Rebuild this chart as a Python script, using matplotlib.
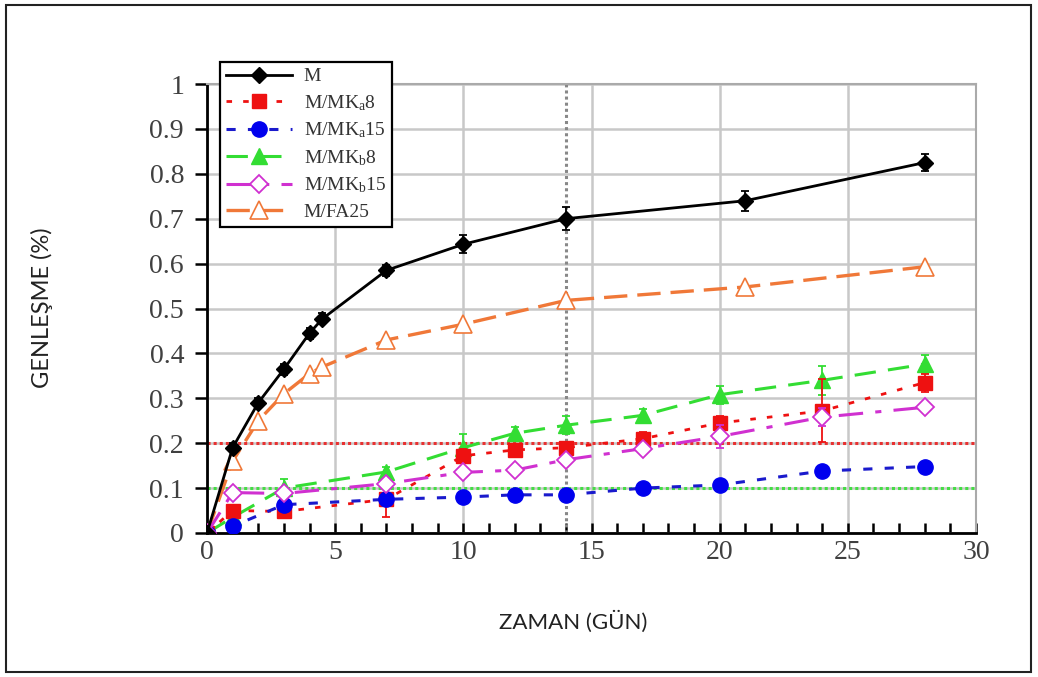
import numpy as np
import matplotlib
matplotlib.use("Agg")
import matplotlib.pyplot as plt
from matplotlib.patches import Rectangle

plt.rcParams['font.family'] = ['Liberation Serif', 'DejaVu Serif']
plt.rcParams['mathtext.fontset'] = 'custom'
plt.rcParams['mathtext.rm'] = 'Liberation Serif'
plt.rcParams['mathtext.it'] = 'Liberation Serif'

# gun (days) and expansion (%) per mix
t_M = [0, 1, 2, 3, 4, 4.5, 7, 10, 14, 21, 28]
M = [0, 0.19, 0.29, 0.365, 0.445, 0.477, 0.585, 0.643, 0.70, 0.74, 0.825]
M_err = [0, 0.01, 0.01, 0.012, 0.012, 0.012, 0.012, 0.02, 0.025, 0.022, 0.018]

t_FA = [0, 1, 2, 3, 4, 4.5, 7, 10, 14, 21, 28]
FA25 = [0, 0.16, 0.25, 0.31, 0.355, 0.37, 0.43, 0.465, 0.518, 0.548, 0.593]

t_mk = [0, 1, 3, 7, 10, 12, 14, 17, 20, 24, 28]
MKa8 = [0, 0.05, 0.048, 0.075, 0.172, 0.185, 0.19, 0.21, 0.245, 0.272, 0.335]
MKa8_err = [0, 0.01, 0.01, 0.04, 0.015, 0.01, 0.01, 0.015, 0.015, 0.07, 0.02]
MKa15 = [0, 0.015, 0.063, 0.075, 0.08, 0.085, 0.085, 0.10, 0.107, 0.138, 0.148]
MKa15_err = [0, 0.01, 0.01, 0.01, 0.008, 0.008, 0.01, 0.008, 0.008, 0.01, 0.008]
MKb8 = [0, 0.035, 0.10, 0.136, 0.19, 0.222, 0.24, 0.262, 0.308, 0.34, 0.376]
MKb8_err = [0, 0.01, 0.02, 0.01, 0.03, 0.015, 0.02, 0.015, 0.02, 0.033, 0.02]
MKb15 = [0, 0.09, 0.088, 0.11, 0.135, 0.14, 0.163, 0.188, 0.215, 0.258, 0.28]
MKb15_err = [0, 0.005, 0.005, 0.01, 0.01, 0.01, 0.01, 0.01, 0.025, 0.02, 0.01]

labels = ['M', 'M/MK$_{\\mathrm{a}}$8', 'M/MK$_{\\mathrm{a}}$15',
          'M/MK$_{\\mathrm{b}}$8', 'M/MK$_{\\mathrm{b}}$15', 'M/FA25']
ytick_labels = ['0', '0.1', '0.2', '0.3', '0.4', '0.5', '0.6', '0.7', '0.8', '0.9', '1']

fig = plt.figure(figsize=(10.38, 6.77), dpi=100)
ax = fig.add_axes([207/1038, 1-533/677, (976-207)/1038, (533-84)/677])

# limit lines
ax.axhline(0.2, color='#e83030', ls=(0, (1, 1)), lw=2.2, zorder=1)
ax.axhline(0.1, color='#44dd44', ls=(0, (1, 1)), lw=2.2, zorder=1)
ax.axvline(14, color='#888888', ls=(0, (1, 1)), lw=2.2, zorder=1)

eb = dict(capsize=3, elinewidth=1.3, capthick=1.3)

h1 = ax.errorbar(t_M, M, yerr=M_err, color='black', ls='-', lw=2, marker='D',
                 ms=8, zorder=6, **eb)
h2 = ax.errorbar(t_mk, MKa8, yerr=MKa8_err, color='#ee1111', ls=(0, (2, 4)), lw=2,
                 marker='s', ms=10, zorder=4, **eb)
h3 = ax.errorbar(t_mk, MKa15, yerr=MKa15_err, color='#1a1acc', mfc='#0000ee', mec='#0000ee',
                 ls=(0, (3, 4)), lw=2.2, marker='o', ms=11, zorder=4, **eb)
h4 = ax.errorbar(t_mk, MKb8, yerr=MKb8_err, color='#33dd33', ls=(0, (7, 4)), lw=2.2,
                 marker='^', ms=11, zorder=3, **eb)
h5 = ax.errorbar(t_mk, MKb15, yerr=MKb15_err, color='#d030d0', mfc='white',
                 ls=(0, (8, 4, 2, 4)), lw=2.2, marker='D', ms=9, mew=1.3,
                 zorder=5, **eb)
h6, = ax.plot(t_FA, FA25, color='#f07838', mfc='white', ls=(0, (7, 3)), lw=2.4,
              marker='^', ms=13, mew=1.2, zorder=5)

ax.set_xlim(0, 30)
ax.set_ylim(0, 1)
ax.set_xticks(np.arange(0, 31, 5))
ax.set_xticks(np.arange(0, 31, 1), minor=True)
ax.set_yticks(np.arange(0, 1.01, 0.1))
ax.set_yticklabels(ytick_labels)
ax.grid(True, which='major', color='#c8c8c8', lw=1.8, zorder=0)
ax.set_axisbelow(True)

ax.tick_params(axis='x', which='both', direction='in', length=7, width=1.8,
               color='black', labelsize=20, labelcolor='#404040', pad=5)
ax.tick_params(axis='y', which='major', direction='out', length=8.5, width=1.8,
               color='black', labelsize=20, labelcolor='#404040', pad=8)
for s in ['left', 'bottom']:
    ax.spines[s].set_color('black')
    ax.spines[s].set_linewidth(2)
for s in ['top', 'right']:
    ax.spines[s].set_color('#aaaaaa')
    ax.spines[s].set_linewidth(1.5)

handles = [h1[0], h2[0], h3[0], h4[0], h5[0], h6]
leg = fig.legend(handles=handles, labels=labels,
                 loc='upper left', bbox_to_anchor=(220/1038, 1-62/677),
                 borderaxespad=0, fancybox=False, edgecolor='black', framealpha=1,
                 fontsize=14, handlelength=3.4, labelspacing=0.4, borderpad=0.3,
                 handletextpad=0.6)
leg.get_frame().set_linewidth(1.6)
for txt in leg.get_texts():
    txt.set_color('#333333')

fig.text(573/1038, 1-622/677, 'ZAMAN (GÜN)', ha='center', va='center',
         fontsize=16, family=['Lato', 'DejaVu Sans'], color='#222222')
fig.text(42/1038, 1-308/677, 'GENLEŞME (%)', ha='center', va='center', rotation=90,
         fontsize=17, family=['Lato', 'DejaVu Sans'], color='#222222')

fig.patches.append(Rectangle((6/1038, 5/677), 1025/1038, 667/677, transform=fig.transFigure,
                             fill=False, edgecolor='#222222', lw=1.5))

fig.savefig('out.png', dpi=100)
